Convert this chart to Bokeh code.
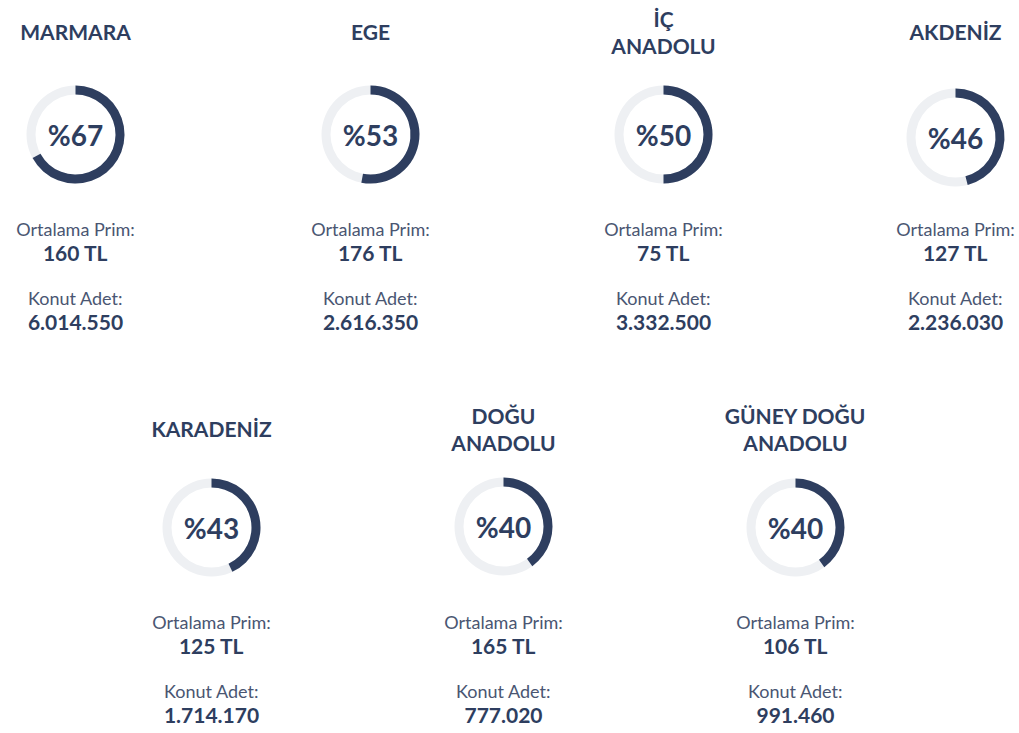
import math
from bokeh.plotting import figure
from bokeh.models import Range1d, ColumnDataSource
from bokeh.core.properties import value
from bokeh.embed import file_html
from bokeh.resources import INLINE

# ---- data ----
regions = ["MARMARA", "EGE", "İÇ\nANADOLU", "AKDENİZ", "KARADENİZ", "DOĞU\nANADOLU", "GÜNEY DOĞU\nANADOLU"]
percent = [67, 53, 50, 46, 43, 40, 40]
avg_premium = [160, 176, 75, 127, 125, 165, 106]
housing_count = [6014550, 2616350, 3332500, 2236030, 1714170, 777020, 991460]
premium_label = "Ortalama Prim:"
count_label = "Konut Adet:"

# ---- layout (pixels) ----
W, H = 1019, 733
row_x = [[75, 370, 663, 955], [211, 503, 795]]
row_cy = [[134, 134, 134, 137], [527, 526, 527]]
row_base = [134, 527]
row_title_y = [31, 428]

DARK = "#2e3e5f"
LIGHT = "#eef0f3"
FONT = "Lato"

cx, cy, ty, by = [], [], [], []
for r, xs in enumerate(row_x):
    for i, x in enumerate(xs):
        cx.append(x)
        cy.append(row_cy[r][i])
        ty.append(row_title_y[r])
        by.append(row_base[r])

p = figure(width=W, height=H, output_backend="svg", toolbar_location=None,
           x_range=Range1d(0, W), y_range=Range1d(H, 0),
           min_border=0)
p.axis.visible = False
p.grid.visible = False
p.outline_line_color = None
p.background_fill_color = "white"
p.border_fill_color = "white"

# rings
src = ColumnDataSource(dict(
    x=cx, y=cy,
    end=[math.pi / 2 - 2 * math.pi * v / 100 for v in percent],
    pct=["%" + str(v) for v in percent],
))
p.annulus(x="x", y="y", inner_radius=40, outer_radius=49, source=src,
          fill_color=LIGHT, line_color=None)
p.annular_wedge(x="x", y="y", inner_radius=40, outer_radius=49,
                start_angle=math.pi / 2, end_angle="end", direction="clock",
                source=src, fill_color=DARK, line_color=None)
p.text(x="x", y="y", text="pct", source=src, text_font=value(FONT),
       text_font_style="bold", text_font_size="28px", text_color=DARK,
       text_align="center", text_baseline="middle")

# titles
tx, tyy, tt = [], [], []
for i, name in enumerate(regions):
    lines = name.split("\n")
    n = len(lines)
    for k, ln in enumerate(lines):
        tx.append(cx[i])
        tyy.append(ty[i] + (k - (n - 1) / 2) * 27)
        tt.append(ln)
p.text(x=tx, y=tyy, text=tt, text_font=value(FONT), text_font_style="bold",
       text_font_size="21px", text_color=DARK, text_align="center",
       text_baseline="middle")

def fmt(n):
    return f"{n:,}".replace(",", ".")

lab_x, lab_y, lab_t = [], [], []
val_x, val_y, val_t = [], [], []
for i in range(len(regions)):
    lab_x += [cx[i], cx[i]]
    lab_y += [by[i] + 94, by[i] + 163]
    lab_t += [premium_label, count_label]
    val_x += [cx[i], cx[i]]
    val_y += [by[i] + 118, by[i] + 188]
    val_t += [f"{avg_premium[i]} TL", fmt(housing_count[i])]

p.text(x=lab_x, y=lab_y, text=lab_t, text_font=value(FONT),
       text_font_size="18px", text_color="#4a5672", text_align="center",
       text_baseline="middle")
p.text(x=val_x, y=val_y, text=val_t, text_font=value(FONT),
       text_font_style="bold", text_font_size="21px", text_color=DARK,
       text_align="center", text_baseline="middle")

open("out.html", "w").write(file_html(p, INLINE))
